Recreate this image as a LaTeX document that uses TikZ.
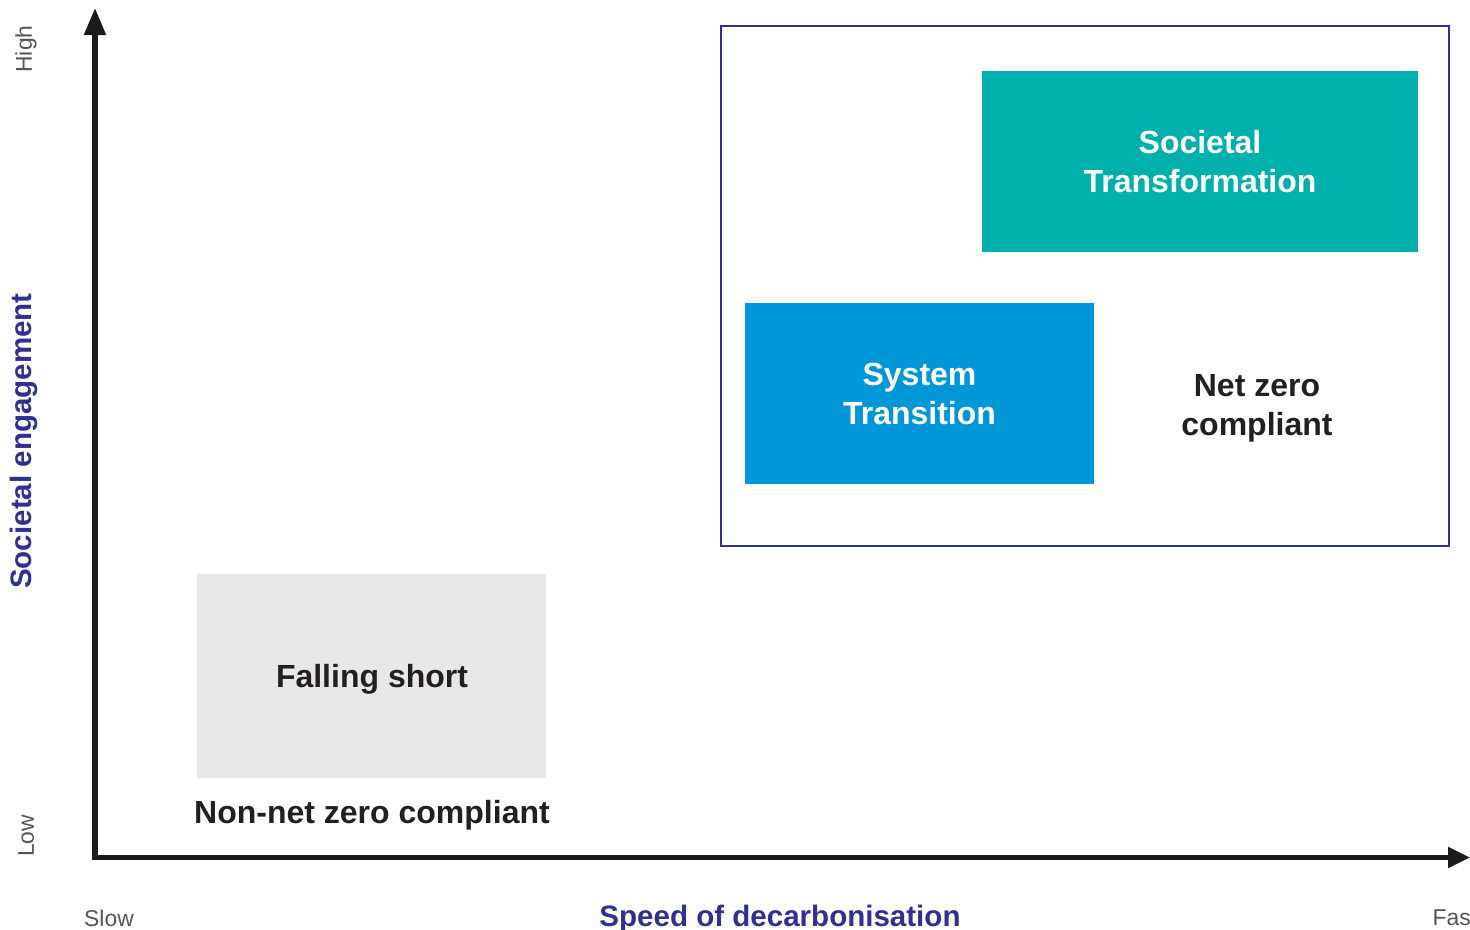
\documentclass[tikz,border=0pt]{standalone}
\usepackage{fontspec}
\setmainfont{Liberation Sans}
\usetikzlibrary{arrows.meta}
\definecolor{navy}{HTML}{2E3192}
\definecolor{teal}{HTML}{00B0AD}
\definecolor{sysblue}{HTML}{0097D8}
\definecolor{lightgray}{HTML}{E8E8E8}
\definecolor{axisblack}{HTML}{1A1A1A}
\definecolor{ticklabel}{HTML}{555555}
\definecolor{labelblack}{HTML}{231F20}
\tikzset{
  axisline/.style={draw=axisblack, line width=0.05cm, {Triangle[length=0.27cm,width=0.21cm]}-{Triangle[length=0.22cm,width=0.2cm]}},
  boxlabel/.style={font=\fontsize{9.1pt}{11.1pt}\selectfont\bfseries, align=center, inner sep=0pt},
  axistitle/.style={font=\fontsize{8.4pt}{10pt}\selectfont\bfseries, text=navy, inner sep=0pt},
  ticktext/.style={font=\fontsize{6.5pt}{8pt}\selectfont, text=ticklabel, inner sep=0pt},
  region/.style={draw=none, inner sep=0pt}
}
\begin{document}
\begin{tikzpicture}[x=0.01cm,y=-0.01cm]
\useasboundingbox (0,0) rectangle (1470,929);
% frame
\node[draw=navy, line width=0.02cm, minimum width=728*0.01cm, minimum height=520*0.01cm, inner sep=0pt] (frame) at (1085,286) {};
% boxes
\node[region, fill=teal, minimum width=436*0.01cm, minimum height=181*0.01cm] (teal) at (1200,161.5) {};
\node[boxlabel, text=white] (tealtext) at (teal.center) {Societal\\Transformation};
\node[region, fill=sysblue, minimum width=349*0.01cm, minimum height=181*0.01cm] (sys) at (919.5,393.5) {};
\node[boxlabel, text=white] (systext) at (sys.center) {System\\Transition};
\node[boxlabel, text=labelblack] (netzero) at (1257,408) {Net zero\\compliant};
\node[region, fill=lightgray, minimum width=349*0.01cm, minimum height=204*0.01cm] (gray) at (371.5,676) {};
\node[boxlabel, text=labelblack] (fall) at (372,679) {Falling short};
\node[boxlabel, text=labelblack] (nonnet) at (372,815) {Non-net zero compliant};
% axes
\coordinate (ytop) at (95,8);
\coordinate (origin) at (95,857.5);
\coordinate (xend) at (1470,857.5);
\draw[axisline] (ytop) -- (origin) -- (xend);
% axis labels
\node[axistitle] (xtitle) at (780,919) {Speed of decarbonisation};
\node[axistitle, rotate=90] (ytitle) at (24,441) {Societal engagement};
\node[ticktext] (slow) at (109,918) {Slow};
\node[ticktext, anchor=west] (fast) at (1432,918) {Fast};
\node[ticktext, rotate=90] (high) at (26,49) {High};
\node[ticktext, rotate=90] (low) at (26,836) {Low};
\end{tikzpicture}
\end{document}
